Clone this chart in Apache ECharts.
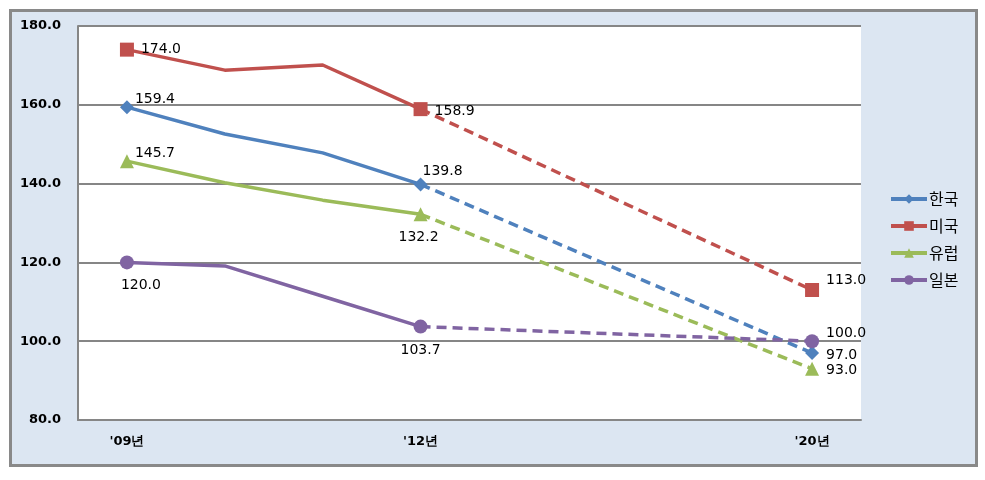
<!DOCTYPE html>
<html><head><meta charset="utf-8">
<script src="https://cdn.jsdelivr.net/npm/echarts@6/dist/echarts.min.js"></script>
<style>html,body{margin:0;padding:0;background:#fff}#c{width:985px;height:480px}</style>
</head><body><div id="c"></div>
<script>
// categories (8 equally spaced slots; only three are labelled)
var categories = ["'09년", "'10년", "'11년", "'12년", "s1", "s2", "s3", "'20년"];
var tickLabels = ["'09년", "'12년", "'20년"];
var seriesNames = ["한국", "미국", "유럽", "일본"];
// actual values '09..'12
var korea  = [159.4, 152.6, 147.8, 139.8];
var usa    = [174.0, 168.8, 170.1, 158.9];
var europe = [145.7, 140.2, 135.8, 132.2];
var japan  = [120.0, 119.1, 111.4, 103.7];
// forecast for '20
var korea20 = 97.0, usa20 = 113.0, europe20 = 93.0, japan20 = 100.0;
var yTicks = [80, 100, 120, 140, 160, 180];

var colors = ['#4F81BD', '#C0504D', '#9BBB59', '#8064A2'];
var symbols = ['diamond', 'rect', 'triangle', 'circle'];
var sizes = [14, 14, 14, 14];
// label positions: [start label, '12 label, '20 label]
var labelCfg = [
  [{position:'right', offset:[-4,-8]}, {position:'top', offset:[22,6]}, {position:'right', offset:[2,2]}],
  [{position:'right', offset:[2,0]}, {position:'right', offset:[2,2]}, {position:'right', offset:[2,-10]}],
  [{position:'right', offset:[-4,-8]}, {position:'bottom', offset:[-2,4]}, {position:'right', offset:[2,2]}],
  [{position:'bottom', offset:[14,4]}, {position:'bottom', offset:[0,5]}, {position:'right', offset:[2,-8]}]
];
var actual = [korea, usa, europe, japan];
var forecast = [korea20, usa20, europe20, japan20];
var N = categories.length;

function fmt(p) { return p.value.toFixed(1); }
var series = [];
for (var i = 0; i < 4; i++) {
  var solid = [];
  for (var j = 0; j < N; j++) {
    if (j < actual[i].length) {
      var item = {value: actual[i][j]};
      if (j === 0 || j === actual[i].length - 1) {
        var lc = labelCfg[i][j === 0 ? 0 : 1];
        item.label = {show: true, position: lc.position, offset: lc.offset};
      } else {
        item.symbol = 'none';
      }
      solid.push(item);
    } else solid.push(null);
  }
  series.push({
    name: seriesNames[i], type: 'line', data: solid, symbol: symbols[i], symbolSize: sizes[i],
    color: colors[i], lineStyle: {width: 3.5, color: colors[i]}, itemStyle: {color: colors[i]},
    label: {show: false, color: '#000', fontSize: 14, fontFamily: 'DejaVu Sans', formatter: fmt},
    z: 3, animation: false
  });
  var dashed = [];
  for (var j = 0; j < N; j++) {
    if (j === actual[i].length - 1) dashed.push({value: actual[i][j], symbol: 'none'});
    else if (j === N - 1) {
      var lc2 = labelCfg[i][2];
      dashed.push({value: forecast[i], label: {show: true, position: lc2.position, offset: lc2.offset}});
    } else dashed.push(null);
  }
  series.push({
    name: seriesNames[i], type: 'line', data: dashed, connectNulls: true, symbol: symbols[i], symbolSize: sizes[i],
    color: colors[i], lineStyle: {width: 3.5, type: [10, 6], color: colors[i]}, itemStyle: {color: colors[i]},
    label: {show: false, color: '#000', fontSize: 14, fontFamily: 'DejaVu Sans', formatter: fmt},
    z: 2, animation: false
  });
}

var chart = echarts.init(document.getElementById('c'), null, {renderer: 'canvas'});
chart.setOption({
  backgroundColor: '#fff',
  animation: false,
  graphic: [{
    type: 'rect', z: -10, silent: true,
    shape: {x: 10.5, y: 10.5, width: 966, height: 455},
    style: {fill: '#DCE6F2', stroke: '#898989', lineWidth: 3}
  }, {
    type: 'rect', z: -5, silent: true,
    shape: {x: 78, y: 26, width: 783, height: 394},
    style: {fill: '#fff'}
  }],
  grid: {left: 78, right: 124, top: 26, bottom: 60, containLabel: false},
  legend: {
    orient: 'vertical', left: 884, top: 186, itemGap: 11, itemWidth: 36, itemHeight: 12,
    data: seriesNames,
    lineStyle: {width: 4},
    textStyle: {fontSize: 16, color: '#000', fontFamily: 'Noto Sans CJK KR', padding: [0, 0, 0, -3]}
  },
  xAxis: {
    type: 'category', data: categories, boundaryGap: true,
    axisLine: {lineStyle: {color: '#868686', width: 2}},
    axisTick: {show: false},
    axisLabel: {
      interval: 0, margin: 15, fontWeight: 'bold', fontSize: 13, color: '#000', fontFamily: 'DejaVu Sans',
      formatter: function (v) { return tickLabels.indexOf(v) >= 0 ? v : ''; }
    }
  },
  yAxis: {
    type: 'value', min: yTicks[0], max: yTicks[yTicks.length - 1], interval: 20,
    axisLine: {show: true, lineStyle: {color: '#868686', width: 2}},
    axisTick: {show: false},
    splitLine: {lineStyle: {color: '#868686', width: 2}},
    axisLabel: {margin: 17, fontWeight: 'bold', fontSize: 13, color: '#000', fontFamily: 'DejaVu Sans',
      formatter: function (v) { return v.toFixed(1); }}
  },
  series: series
});
</script></body></html>
